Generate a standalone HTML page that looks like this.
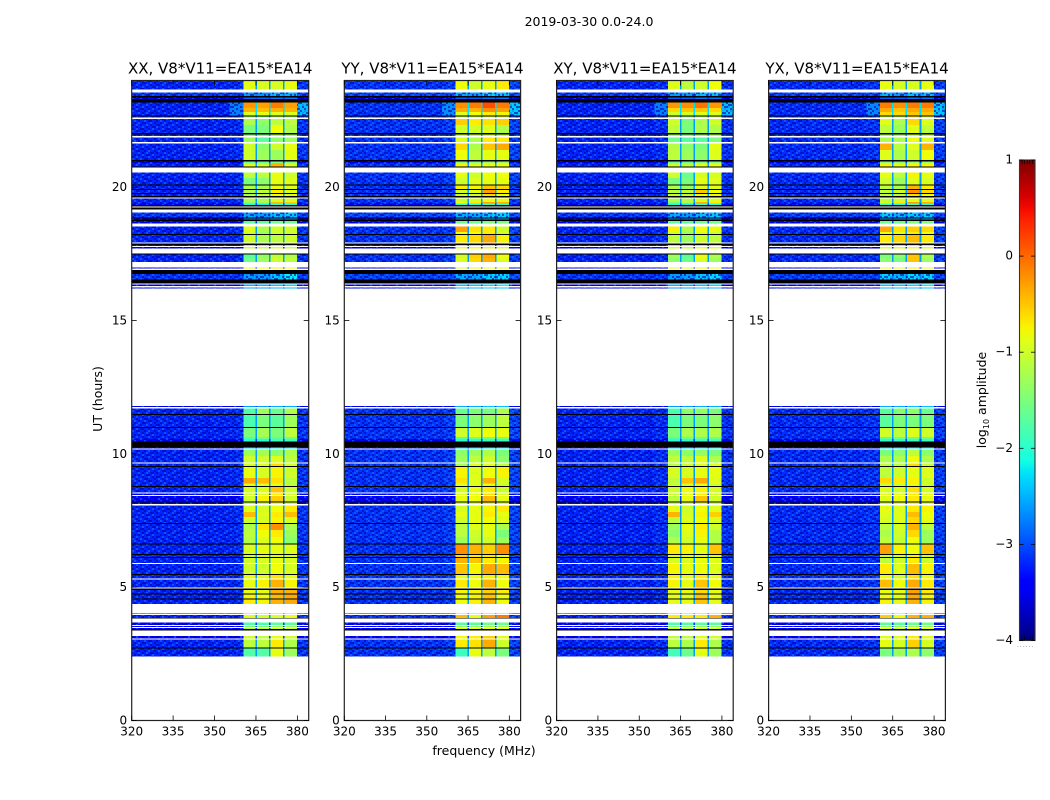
<!DOCTYPE html>
<html>
<head>
<meta charset="utf-8">
<title>2019-03-30 0.0-24.0</title>
<style>
html,body{margin:0;padding:0;background:#fff;}
svg{display:block;}
text{font-family:"DejaVu Sans","Liberation Sans",sans-serif;fill:#000;}
</style>
</head>
<body>
<svg id="chart" xmlns="http://www.w3.org/2000/svg" width="1050" height="800" viewBox="0 0 1050 800">
<defs>
<pattern id="speckle" patternUnits="userSpaceOnUse" width="26" height="20">
<g fill="#0000a0" opacity=".6">
<rect x="0" y="0" width="2" height="2"/><rect x="8" y="0" width="2" height="2"/><rect x="18" y="0" width="4" height="2"/>
<rect x="4" y="2" width="2" height="2"/><rect x="12" y="2" width="4" height="2"/><rect x="24" y="2" width="2" height="2"/>
<rect x="0" y="4" width="4" height="2"/><rect x="10" y="4" width="2" height="2"/><rect x="20" y="4" width="2" height="2"/>
<rect x="6" y="6" width="2" height="2"/><rect x="16" y="6" width="2" height="2"/><rect x="22" y="6" width="4" height="2"/>
<rect x="2" y="8" width="2" height="2"/><rect x="10" y="8" width="4" height="2"/><rect x="18" y="8" width="2" height="2"/>
<rect x="6" y="10" width="4" height="2"/><rect x="14" y="10" width="2" height="2"/><rect x="24" y="10" width="2" height="2"/>
<rect x="0" y="12" width="2" height="2"/><rect x="12" y="12" width="2" height="2"/><rect x="20" y="12" width="4" height="2"/>
<rect x="4" y="14" width="2" height="2"/><rect x="8" y="14" width="2" height="2"/><rect x="16" y="14" width="4" height="2"/>
<rect x="0" y="16" width="4" height="2"/><rect x="12" y="16" width="2" height="2"/><rect x="22" y="16" width="2" height="2"/>
<rect x="6" y="18" width="2" height="2"/><rect x="14" y="18" width="4" height="2"/><rect x="24" y="18" width="2" height="2"/>
</g>
<g fill="#1878ff" opacity=".55">
<rect x="4" y="0" width="2" height="2"/><rect x="14" y="0" width="2" height="2"/>
<rect x="8" y="2" width="2" height="2"/><rect x="20" y="2" width="2" height="2"/>
<rect x="6" y="4" width="2" height="2"/><rect x="16" y="4" width="2" height="2"/>
<rect x="0" y="6" width="2" height="2"/><rect x="12" y="6" width="2" height="2"/>
<rect x="6" y="8" width="2" height="2"/><rect x="22" y="8" width="2" height="2"/>
<rect x="2" y="10" width="2" height="2"/><rect x="18" y="10" width="2" height="2"/>
<rect x="8" y="12" width="2" height="2"/><rect x="16" y="12" width="2" height="2"/>
<rect x="12" y="14" width="2" height="2"/><rect x="22" y="14" width="2" height="2"/>
<rect x="6" y="16" width="2" height="2"/><rect x="18" y="16" width="2" height="2"/>
<rect x="2" y="18" width="2" height="2"/><rect x="10" y="18" width="2" height="2"/>
</g>
</pattern>
<linearGradient id="jet-gradient" x1="0" y1="1" x2="0" y2="0"></linearGradient>
</defs>
<text x="589" y="26" font-size="12.5" text-anchor="middle">2019-03-30 0.0-24.0</text>
<text x="484" y="755" font-size="12.5" text-anchor="middle">frequency (MHz)</text>
<text x="0" y="0" font-size="12.5" text-anchor="middle" transform="translate(102,399) rotate(-90)">UT (hours)</text>
<text x="0" y="0" font-size="12.5" text-anchor="middle" transform="translate(986,400) rotate(-90)">log<tspan font-size="8" dy="3">10</tspan><tspan dy="-3"> amplitude</tspan></text>
<text x="1017" y="647" font-size="6" letter-spacing="1" style="fill:#777">......</text>
<g id="panels"></g>
<g id="colorbar"></g>
</svg>
<script>
// Time band edges, hours (top of band to bottom).
const bandEdges = [
23.981,23.663,23.543,23.419,23.363,23.306,23.168,22.969,22.819,22.695,
22.658,22.605,22.556,22.331,22.031,21.983,21.919,21.870,21.694,21.645,
21.394,21.019,20.970,20.906,20.768,20.730,20.543,20.344,20.100,20.063,
19.931,19.894,19.781,19.744,19.669,19.620,19.575,19.444,19.395,19.331,
19.275,19.238,19.170,19.043,18.855,18.818,18.780,18.731,18.645,18.518,
18.319,18.244,18.206,17.933,17.880,17.831,17.794,17.756,17.708,17.520,
17.475,17.344,17.194,16.995,16.950,16.894,16.744,16.545,16.395,16.350,
16.294,16.245,16.200,11.794,11.764,11.693,11.494,11.456,11.006,10.969,
10.631,10.556,10.455,10.238,10.200,10.155,9.919,9.683,9.645,9.544,
9.506,9.094,8.888,8.794,8.756,8.558,8.520,8.456,8.419,8.213,
8.183,8.119,8.063,7.819,7.631,7.406,7.369,7.144,6.881,6.638,
6.600,6.244,6.206,6.131,6.094,5.906,5.869,5.494,5.456,5.333,
5.295,4.980,4.950,4.894,4.763,4.725,4.575,4.538,4.369,4.020,
3.994,3.956,3.844,3.818,3.668,3.581,3.544,3.506,3.469,3.431,
3.383,3.169,3.068,3.030,2.738,2.708,2.393,0
];
// Band types: N normal, L low signal, D dark, H hot; w flagged blank, k flagged black.
const bandKinds = [
'N','w','L','k','D','k','H','H','H','k',
'N','w','N','N','k','N','w','N','w','N',
'N','k','D','N','k','w','N','N','k','N',
'k','N','k','N','k','w','N','N','D','k',
'w','k','w','L','k','D','k','D','w','N',
'N','k','N','w','k','D','w','D','w','k',
'N','N','w','D','w','k','L','k','w','D',
'w','D','w','D','w','N','k','N','k','N',
'N','D','k','D','w','N','N','w','N','k',
'N','N','N','k','N','w','D','w','D','k',
'D','w','N','N','N','k','N','N','N','k',
'N','k','N','k','N','w','N','k','N','w',
'N','w','k','N','k','N','k','N','w','D',
'w','N','k','w','D','w','D','w','D','k',
'w','D','w','N','k','N','w'
];
// Background log10 amplitude by band type: [left, ramp, right, channel gap].
const baseN = [-3.2,-3.15,-3.1,-2.6];
const baseL = [-3.1,-3.1,-3.05,-2.8];
const baseD = [-3.45,-3.45,-3.4,-3.1];
const baseH = [-3.2,-2.75,-2.45,-2.3];
// Frequency bin edges, MHz: left, ramp, ch1, gap, ch2, gap, ch3, gap, ch4, right.
const freqEdges = [320,355.5,360.4,364.8,365.3,369.7,370.2,374.8,375.4,379.9,384.1];
const freqTicks = [320,335,350,365,380];
const hourTicks = [0,5,10,15,20];
const colorTicks = [1,0,-1,-2,-3,-4];
const colorTickLabels = ['1','0','\u22121','\u22122','\u22123','\u22124'];
// Channel log10 amplitudes [ch1, ch2, ch3, ch4] per unflagged band.
const xxLevels = [
[-.85,-.95,-.95,-.85],[-2.6,-2.65,-2.45,-2.5],[-2.9,-2.9,-2.8,-2.8],[-.25,-.3,-.1,-.3],[-.4,-.45,-.4,-.4],[-.9,-.85,-.9,-.9],
[-1.3,-1.4,-1.1,-1.2],[-1.2,-1.4,-1.1,-1.1],[-1.5,-1.5,-.8,-1.2],[-1.4,-1.5,-1.3,-1.3],[-1.3,-1.7,-1.4,-1.3],[-1,-1.4,-1,-.85],
[-1,-1.3,-1.3,-.85],[-1.6,-1.6,-1.5,-1.5],[-.9,-1,-.4,-.95],[-1.1,-1.1,-.85,-1],[-1.5,-1.4,-.85,-.9],[-1.2,-1.2,-.85,-.9],
[-1.2,-1.1,-.7,-.9],[-1.2,-1.1,-.8,-.9],[-1.2,-1.2,-.95,-.95],[-1.4,-1.3,-.45,-.55],[-2.1,-2.2,-2,-2.1],
[-2.55,-2.6,-2.45,-2.4],[-2.7,-2.7,-2.6,-2.6],[-1.7,-1.7,-1.6,-1.6],[-.9,-1.2,-1,-1],
[-1,-1.3,-1,-1],[-1,-1.2,-1.1,-1],[-1.5,-1.5,-1.4,-1.4],[-1,-1,-.9,-1],
[-1.7,-1.4,-1.1,-1.2],[-1.6,-1.3,-1,-1.1],[-.8,-.8,-.7,-.8],[-2.6,-2.6,-2.4,-2.2],[-2.5,-2.5,-2.4,-2.3],
[-2.6,-2.6,-2.5,-2.5],[-2.6,-2.6,-2.5,-2.5],[-1.75,-1.3,-1.6,-1.2],[-1.8,-1.5,-1.7,-1.3],[-1.5,-1.25,-1.5,-1.1],
[-1.8,-1.6,-1.7,-1.6],[-2,-2,-1.9,-1.9],[-2.3,-2.3,-2.2,-2.2],[-1.3,-1.25,-1.4,-1.2],[-1,-1,-.9,-1.1],[-.95,-.95,-.6,-.95],
[-.85,-.95,-.75,-1],[-.35,-.45,-.65,-1.1],[-.9,-.9,-.85,-1.1],[-.95,-.9,-.5,-1],[-1,-.9,-.7,-1],[-1,-.75,-.55,-1],
[-1.1,-.95,-.8,-1],[-.9,-.95,-.8,-.7],[-.45,-.9,-.7,-.45],[-1,-.95,-.75,-.9],[-1.2,-.65,-.2,-1.2],[-1.1,-.8,-.7,-1.3],[-1.15,-.9,-.8,-1.4],
[-.95,-.85,-.85,-.9],[-1,-.9,-.85,-.95],[-1,-.95,-.85,-.95],[-1,-1,-.8,-.95],[-.85,-.85,-.65,-.85],
[-.85,-.75,-.4,-.75],[-.85,-.85,-.4,-.4],[-.75,-.8,-.45,-.35],[-.7,-.75,-.4,-.35],[-2,-2,-1.9,-1.9],
[-.9,-1,-.9,-.8],[-1.8,-1.8,-1.7,-1.7],[-1.5,-1.5,-1.4,-1.4],[-1.1,-1.1,-1,-1],
[-1,-1.1,-.85,-1],[-1.1,-1.1,-.7,-1.2],[-1.75,-1.75,-.85,-1.3]
];
const yyLevels = [
[-.8,-1,-.85,-.7],[-2.5,-2.6,-2.35,-2.4],[-2.9,-2.9,-2.8,-2.8],[-.2,-.1,.15,-.1],[-.35,-.4,-.2,-.3],[-.9,-.8,-.7,-.75],
[-1,-1,-.85,-.9],[-.55,-.7,-.65,-.55],[-1,-1,-.9,-1.2],[-1,-1.1,-.95,-1.1],[-.9,-1.2,-.7,-.7],[-.6,-1.2,-.5,-.35],
[-.8,-1.1,-.85,-.85],[-1.4,-1.4,-1.3,-1.3],[-.75,-.9,-.85,-.8],[-.85,-1,-.8,-.8],[-1,-.9,-.85,-.85],[-.7,-.75,-.5,-.6],
[-1,-.9,-.3,-.7],[-1,-1,-.6,-.8],[-1,-.95,-.8,-.85],[-.8,-.7,-.35,-.4],[-2,-2.1,-1.9,-2],
[-2.5,-2.55,-2.4,-2.35],[-2.6,-2.6,-2.5,-2.5],[-1.6,-1.6,-1.5,-1.5],[-.3,-.65,-.7,-1],
[-.8,-.8,-.7,-1],[-.7,-.6,-.35,-.75],[-1.3,-1.3,-1.2,-1.2],[-.8,-.8,-.8,-.9],
[-1,-.55,-.35,-.8],[-.9,-.6,-.4,-.9],[-.9,-.9,-.8,-.9],[-2.5,-2.55,-2.35,-2.3],[-2.4,-2.4,-2.3,-2.2],
[-2.5,-2.5,-2.4,-2.4],[-2.5,-2.5,-2.4,-2.4],[-1.6,-1.5,-1.5,-1.2],[-1.5,-1.4,-1.3,-1.1],[-1,-.9,-.8,-.85],
[-1.7,-1.6,-1.6,-1.5],[-2,-2,-1.9,-1.9],[-2.3,-2.3,-2.2,-2.2],[-1.4,-1.3,-1.2,-1.5],[-1.3,-1.1,-1,-1.4],[-1.2,-.9,-.85,-1.1],
[-.75,-.9,-.8,-.75],[-.65,-.9,-.4,-.95],[-.9,-.9,-.85,-1],[-.95,-.85,-.7,-1],[-.9,-.85,-.6,-.95],[-.85,-.8,-.45,-.85],
[-.95,-.85,-.75,-.85],[-.95,-.85,-.75,-.7],[-.85,-.85,-.7,-.85],[-1,-.85,-.8,-.9],[-1.1,-.9,-.85,-1.2],[-1.1,-1,-.85,-1.5],[-1.3,-1.05,-1,-1.3],
[-.2,-.4,-.55,-.2],[-.6,-.7,-.7,-.8],[-.4,-.5,-.7,-.75],[-.5,-.75,-.35,-.45],[-.85,-.8,-.75,-.8],
[-.7,-.8,-.4,-.8],[-.75,-.75,-.55,-.7],[-.8,-.75,-.5,-.8],[-.8,-.75,-.4,-.8],[-1.9,-1.9,-1.8,-1.8],
[-.45,-.85,-.3,-.1],[-1.7,-1.7,-1.6,-1.6],[-1.4,-1.4,-1.3,-1.3],[-.9,-.9,-.8,-.85],
[-.8,-.7,-.55,-.9],[-.7,-.65,-.35,-1],[-1.9,-.85,-1.1,-1.5]
];
const xyLevels = [
[-.9,-1.1,-1,-.8],[-2.6,-2.6,-2.45,-2.45],[-2.9,-2.9,-2.8,-2.8],[-.25,-.2,-.05,-.25],[-.6,-.5,-.5,-.6],[-1,-.95,-.9,-.9],
[-1.1,-1.4,-1.2,-1],[-1,-1.5,-1.2,-1],[-1.1,-1.5,-1.2,-1.2],[-1.3,-1.5,-1.4,-1.2],[-1.6,-1.7,-1.7,-1.5],[-1.15,-1.4,-1.5,-.85],
[-1.1,-1.3,-1.4,-.9],[-1.6,-1.6,-1.5,-1.5],[-1,-1.1,-.9,-.85],[-1,-1.6,-.95,-.95],[-1.5,-1.5,-.85,-.9],[-1.2,-1.3,-.9,-.9],
[-1.1,-1.1,-.5,-.8],[-1.1,-1.1,-.8,-.85],[-1.2,-1.15,-.95,-.9],[-1.5,-1.2,-.4,-.7],[-2.1,-2.2,-2,-2.1],
[-2.55,-2.6,-2.45,-2.4],[-2.7,-2.7,-2.6,-2.6],[-1.7,-1.7,-1.6,-1.6],[-.75,-1.2,-.8,-.85],
[-1,-1.3,-.9,-1],[-1.1,-1.3,-1,-1.1],[-1.5,-1.5,-1.4,-1.4],[-.9,-1,-.8,-.9],
[-1.3,-1.7,-.85,-1.2],[-1.4,-1.6,-.9,-1.3],[-.8,-.85,-.75,-.8],[-2.6,-2.6,-2.4,-2.3],[-2.5,-2.5,-2.4,-2.3],
[-2.6,-2.6,-2.5,-2.5],[-2.6,-2.6,-2.5,-2.5],[-1.8,-1.4,-1.35,-1.5],[-1.8,-1.5,-1.5,-1.4],[-1.5,-1.2,-1.2,-1.2],
[-1.8,-1.6,-1.6,-1.6],[-2,-2,-1.9,-1.9],[-2.3,-2.3,-2.2,-2.2],[-1.3,-1.4,-1.35,-1.5],[-1.1,-1.1,-.9,-1.2],[-1.15,-1,-.9,-.9],
[-.95,-.95,-.85,-.85],[-1.1,-.5,-.35,-.9],[-1,-.95,-.85,-1],[-1,-.8,-.75,-.95],[-1.05,-.9,-.7,-1],[-1.1,-.85,-.5,-1],
[-1.1,-.95,-.8,-.95],[-.85,-1,-.8,-.9],[-.4,-.95,-.75,-.55],[-1.1,-.9,-.8,-.95],[-1.3,-.85,-.7,-1],[-1.4,-.9,-.75,-1.15],[-1.2,-1,-.85,-1.2],
[-.7,-.75,-.85,-.5],[-.95,-.9,-.85,-.9],[-.95,-.95,-.85,-.9],[-.75,-.85,-.8,-.9],[-.75,-.85,-.7,-.85],
[-.75,-.85,-.5,-.8],[-.85,-.85,-.6,-.85],[-.85,-.85,-.5,-.85],[-.85,-.85,-.5,-.85],[-2,-2,-1.9,-1.9],
[-.7,-.7,-.7,-.4],[-1.8,-1.8,-1.7,-1.7],[-1.5,-1.4,-1.4,-1.4],[-1,-1.1,-.9,-1],
[-1.1,-1.1,-.9,-1],[-1.1,-1.2,-.7,-1.2],[-1.85,-1.6,-.85,-1.3]
];
const yxLevels = [
[-.85,-.95,-.95,-.85],[-2.5,-2.6,-2.45,-2.45],[-2.9,-2.9,-2.8,-2.8],[-.1,-.2,-.1,-.1],[-.35,-.5,-.35,-.35],[-.6,-.6,-.5,-.5],
[-.9,-1.1,-.7,-.9],[-.9,-1.2,-.6,-.9],[-1.1,-1.3,-.9,-1.1],[-1.2,-1.3,-1.1,-1.1],[-1.2,-1.2,-.8,-.9],[-.4,-1.1,-.9,-.4],
[-.9,-1.2,-1,-.8],[-1.4,-1.4,-1.3,-1.3],[-.75,-.85,-.75,-.75],[-.85,-1.1,-.75,-.85],[-1,-1.3,-.9,-.95],[-1.1,-1.2,-.4,-.7],
[-1.1,-1,-.2,-.6],[-1.1,-1.1,-.6,-.8],[-1.1,-1,-.9,-.9],[-.9,-.7,-.3,-.4],[-2,-2.1,-1.9,-2],
[-2.4,-2.5,-2.4,-2.35],[-2.6,-2.6,-2.5,-2.5],[-1.6,-1.6,-1.5,-1.5],[-.35,-.65,-.55,-.6],
[-.8,-.85,-.7,-.8],[-.7,-.6,-.45,-.7],[-1.3,-1.3,-1.2,-1.2],[-.9,-.9,-.8,-.9],
[-1.5,-1.4,-.5,-1.2],[-1.4,-1.5,-.5,-1.3],[-.8,-.85,-.7,-.8],[-2.35,-2.45,-2.3,-2.3],[-2.4,-2.4,-2.3,-2.2],
[-2.5,-2.5,-2.4,-2.4],[-2.5,-2.5,-2.4,-2.4],[-1.7,-1.45,-1.4,-1.6],[-1.7,-1.5,-1.5,-1.5],[-1,-1.1,-.9,-1],
[-1.7,-1.6,-1.6,-1.6],[-2,-2,-1.9,-1.9],[-2.3,-2.3,-2.2,-2.2],[-1.5,-1.4,-1.1,-1.4],[-1.2,-1.2,-.8,-1.2],[-1.1,-1.1,-.6,-1],
[-1.1,-1,-.85,-.9],[-.6,-.7,-.75,-1],[-1,-1,-.85,-1],[-.9,-.95,-.65,-.95],[-.9,-.9,-.7,-.9],[-.9,-.8,-.7,-.85],
[-1,-.9,-.8,-.85],[-.85,-.9,-.7,-.75],[-.9,-.9,-.45,-.8],[-.95,-.9,-.6,-.85],[-1.1,-.95,-.4,-1.1],[-1.2,-1,-.6,-1.3],[-1.1,-1.05,-.8,-1.3],
[-.3,-.75,-.8,-.5],[-1,-.95,-.75,-.95],[-1.1,-1,-.7,-1],[-.7,-.9,-.45,-.75],[-.8,-.95,-.65,-.8],
[-.45,-.8,-.35,-.7],[-.85,-.85,-.3,-.7],[-.8,-.85,-.35,-.75],[-.75,-.85,-.4,-.75],[-1.9,-1.9,-1.8,-1.8],
[-.55,-.8,-.4,-.4],[-1.7,-1.7,-1.6,-1.6],[-1.4,-1.4,-1.3,-1.3],[-.9,-1,-.8,-.9],
[-.9,-.9,-.7,-.9],[-.85,-.95,-.55,-.95],[-1.5,-1.3,-1.2,-1.4]
];
const panelTitles = ['XX, V8*V11=EA15*EA14','YY, V8*V11=EA15*EA14','XY, V8*V11=EA15*EA14','YX, V8*V11=EA15*EA14'];
const panelSeries = [xxLevels,yyLevels,xyLevels,yxLevels];
const panelKeys = ['xx','yy','xy','yx'];
const panelBgLift = [0,.08,0,.04];
// Layout (pixels), not data.
const plotLefts = [131.7,344.3,556.6,768.6];
const plotRights = [308.7,520.6,733.2,945.4];
const plotTop = 80.5, plotBottom = 720.5, xMin = 320, xMax = 384.1, yMax = 24;
const NS = 'http://www.w3.org/2000/svg';

function jet(t){
  t = Math.max(0,Math.min(1,t));
  const seg = (pts)=>{for(let i=1;i<pts.length;i++){if(t<=pts[i][0]){const a=pts[i-1],b=pts[i];return a[1]+(b[1]-a[1])*(t-a[0])/(b[0]-a[0]);}}return pts[pts.length-1][1];};
  const r = seg([[0,0],[.35,0],[.66,1],[.89,1],[1,.5]]);
  const g = seg([[0,0],[.125,0],[.375,1],[.64,1],[.91,0],[1,0]]);
  const b = seg([[0,.5],[.11,1],[.34,1],[.65,0],[1,0]]);
  return 'rgb('+Math.round(r*255)+','+Math.round(g*255)+','+Math.round(b*255)+')';
}
function colorOf(v){return jet((v+4)/5);}
function yScale(h){return plotBottom-(h/yMax)*(plotBottom-plotTop);}
function make(tag,attrs,parent){const e=document.createElementNS(NS,tag);for(const k in attrs)e.setAttribute(k,attrs[k]);parent.appendChild(e);return e;}
function baseFor(kind){return kind==='L'?baseL:kind==='D'?baseD:kind==='H'?baseH:baseN;}

const panelsRoot = document.getElementById('panels');
panelTitles.forEach((title,p)=>{
  const left=plotLefts[p], right=plotRights[p];
  const xScale=(f)=>left+(f-xMin)/(xMax-xMin)*(right-left);
  const series=panelSeries[p], lift=panelBgLift[p];
  const g=make('g',{},panelsRoot);
  
  
  let row=0;
  bandKinds.forEach((kind,b)=>{
    if(kind==='w')return;
    const y0=yScale(bandEdges[b]), y1=yScale(bandEdges[b+1]);
    if(kind==='k'){
      const bar=make('rect',{x:xScale(xMin),y:y0,width:right-left,height:y1-y0,fill:'#000','shape-rendering':'crispEdges'},g);
      
      
      return;
    }
    const lv=series[row++]||[-3,-3,-3,-3], base=baseFor(kind);
    const vals=[base[0]+lift,base[1]+lift,lv[0],base[3],lv[1],base[3],lv[2],base[3],lv[3],base[2]+lift];
    vals.forEach((v,c)=>{
      const x0=xScale(freqEdges[c]), x1=xScale(freqEdges[c+1]);
      const cell=make('rect',{x:x0,y:y0,width:x1-x0,height:y1-y0,fill:colorOf(v),'shape-rendering':'crispEdges'},g);
      
      
    });
    const spans=(kind==='L')?[[freqEdges[0],freqEdges[10]]]:[[freqEdges[0],freqEdges[2]],[freqEdges[9],freqEdges[10]]];
    spans.forEach((span)=>{
      const x0=xScale(span[0]), x1=xScale(span[1]);
      const tex=make('rect',{x:x0,y:y0,width:x1-x0,height:y1-y0,fill:'url(#speckle)','shape-rendering':'crispEdges'},g);
      
      
    });
  });
  const frame=make('rect',{x:left,y:plotTop,width:right-left,height:plotBottom-plotTop,fill:'none',stroke:'#222','stroke-width':1.2},g);
  
  
  freqTicks.forEach((f)=>{
    const x=xScale(f);
    const t1=make('line',{x1:x,x2:x,y1:plotBottom,y2:plotBottom-5,stroke:'#000','stroke-width':.8},g);
    
    
    const t2=make('line',{x1:x,x2:x,y1:plotTop,y2:plotTop+5,stroke:'#000','stroke-width':.8},g);
    
    
    const lab=make('text',{x:x,y:735.5,'font-size':12,'text-anchor':'middle'},g);
    
    
    lab.textContent=String(f);
  });
  hourTicks.forEach((h)=>{
    const y=yScale(h);
    const t1=make('line',{x1:left,x2:left+5,y1:y,y2:y,stroke:'#000','stroke-width':.8},g);
    
    
    const t2=make('line',{x1:right,x2:right-5,y1:y,y2:y,stroke:'#000','stroke-width':.8},g);
    
    
    const lab=make('text',{x:left-4.5,y:y+4,'font-size':12,'text-anchor':'end'},g);
    
    
    lab.textContent=String(h);
  });
  const ttl=make('text',{x:(left+right)/2,y:73.5,'font-size':15,'text-anchor':'middle'},g);
  
  
  ttl.textContent=title;
});

// Colorbar
const grad=document.getElementById('jet-gradient');
for(let i=0;i<=40;i++){
  make('stop',{offset:(i/40),'stop-color':jet(i/40)},grad);
}
const cbRoot=document.getElementById('colorbar');
const cbL=1019.5,cbR=1035,cbT=160,cbB=640.5;
const cbY=(v)=>cbB-(v+4)/5*(cbB-cbT);
const cbFill=make('rect',{x:cbL,y:cbT,width:cbR-cbL,height:cbB-cbT,fill:'url(#jet-gradient)'},cbRoot);


const cbFrame=make('rect',{x:cbL,y:cbT,width:cbR-cbL,height:cbB-cbT,fill:'none',stroke:'#333','stroke-width':1.1},cbRoot);


for(let i=1;i<=5;i++){
  const x=cbL+i*(cbR-cbL)/6;
  const top=make('line',{x1:x,x2:x,y1:cbT,y2:cbT+4,stroke:'#000','stroke-width':.7},cbRoot);
  
  
  const bottom=make('line',{x1:x,x2:x,y1:cbB,y2:cbB-4,stroke:'#000','stroke-width':.7},cbRoot);
  
  
}
colorTicks.forEach((v,i)=>{
  const y=cbY(v);
  const a=make('line',{x1:cbL,x2:cbL+4,y1:y,y2:y,stroke:'#000','stroke-width':.8},cbRoot);
  
  
  const b=make('line',{x1:cbR,x2:cbR-4,y1:y,y2:y,stroke:'#000','stroke-width':.8},cbRoot);
  
  
  const lab=make('text',{x:1013,y:y+3.5,'font-size':12,'text-anchor':'end'},cbRoot);
  
  
  lab.textContent=colorTickLabels[i];
});
</script>
</body>
</html>
